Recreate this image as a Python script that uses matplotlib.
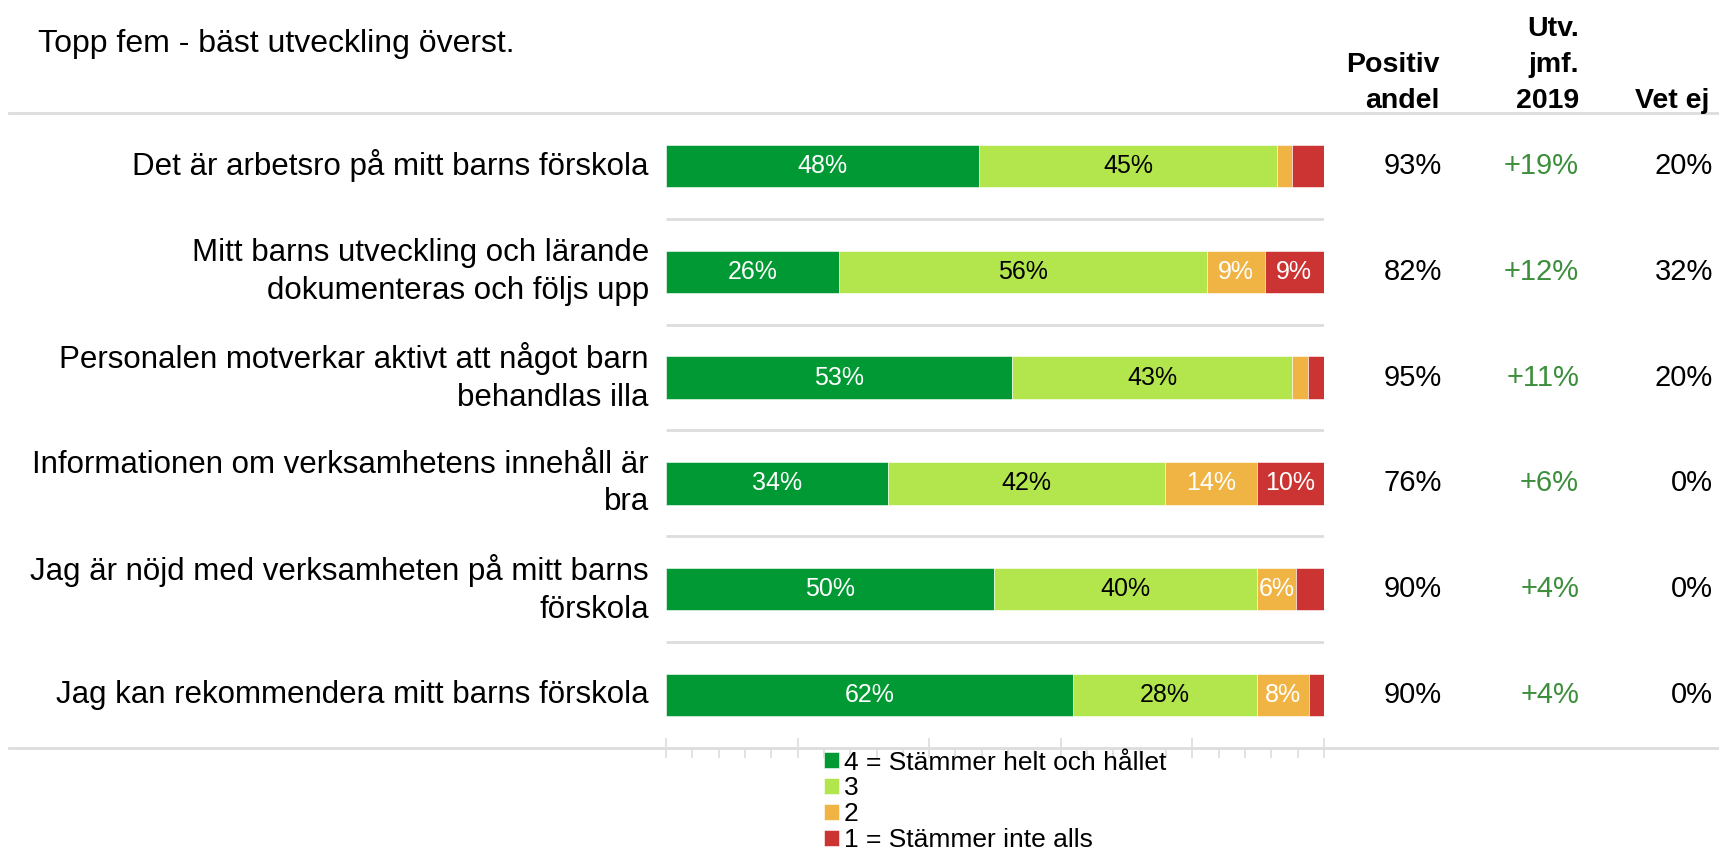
import matplotlib

matplotlib.use("Agg")
import matplotlib.pyplot as plt
import matplotlib.transforms as mtransforms
import numpy as np

plt.rcParams["font.family"] = ["Liberation Sans", "DejaVu Sans"]

TITLE = "Topp fem - bäst utveckling överst."
questions = [
    "Det är arbetsro på mitt barns förskola",
    "Mitt barns utveckling och lärande\ndokumenteras och följs upp",
    "Personalen motverkar aktivt att något barn\nbehandlas illa",
    "Informationen om verksamhetens innehåll är\nbra",
    "Jag är nöjd med verksamheten på mitt barns\nförskola",
    "Jag kan rekommendera mitt barns förskola",
]
level_names = ["4 = Stämmer helt och hållet", "3", "2", "1 = Stämmer inte alls"]
level_colors = ["#009933", "#b3e64d", "#f0b445", "#cc3333"]
label_colors = ["white", "black", "white", "white"]

# share of answers per level, in percent
share_4 = [47.6, 26.3, 52.6, 33.8, 49.8, 61.8]
share_3 = [45.2, 55.9, 42.6, 42.0, 40.0, 28.0]
share_2 = [2.4, 8.8, 2.4, 14.0, 6.0, 8.0]
share_1 = [4.8, 9.0, 2.4, 10.2, 4.2, 2.2]

positive = [93, 82, 95, 76, 90, 90]
change_2019 = [19, 12, 11, 6, 4, 4]
dont_know = [20, 32, 20, 0, 0, 0]

col_headers = ["Positiv\nandel", "Utv.\njmf.\n2019", "Vet ej"]

GRID = "#dddddd"
CHANGE_GREEN = "#3d8f3d"

fig = plt.figure(figsize=(17.19, 8.49), dpi=100)
ax = fig.add_axes([0.3874, 0.1190, 0.3828, 0.7479])

y = np.arange(len(questions))
shares = [share_4, share_3, share_2, share_1]
left = np.zeros(len(questions))
handles = []
for vals, name, color, tcol in zip(shares, level_names, level_colors, label_colors):
    vals = np.array(vals)
    bars = ax.barh(y, vals, left=left, height=0.4, color=color, label=name,
                   edgecolor="white", linewidth=0.4)
    handles.append(bars)
    for yi, l, v in zip(y, left, vals):
        if v >= 5:
            ax.text(l + v / 2, yi, f"{v:.0f}%", ha="center", va="center",
                    color=tcol, fontsize=18)
    left += vals

ax.set_xlim(0, 100)
ax.set_ylim(len(questions) - 0.5, -0.5)
for s in ax.spines.values():
    s.set_visible(False)
ax.set_yticks([])
ax.set_xticks(np.arange(0, 101, 20))
ax.set_xticks(np.arange(0, 101, 4), minor=True)
ax.tick_params(axis="x", which="major", direction="inout", length=14, width=1.2,
               color=GRID, labelbottom=False)
ax.tick_params(axis="x", which="minor", direction="out", length=7, width=1.2,
               color=GRID)

# separators between rows
ax.hlines(y[:-1] + 0.5, 0, 100, color=GRID, lw=2)

# full-width header and footer rules
bt = mtransforms.blended_transform_factory(fig.transFigure, ax.transData)
for yy in (-0.5, len(questions) - 0.5):
    ax.plot([0.005, 1.0], [yy, yy], transform=bt, color=GRID, lw=2, clip_on=False)

# row labels and side columns
for yi, q, p, c, d in zip(y, questions, positive, change_2019, dont_know):
    ax.text(0.3775, yi, q, transform=bt, ha="right", va="center",
            fontsize=22.5, linespacing=1.33)
    ax.text(0.8389, yi, f"{p}%", transform=bt, ha="right", va="center", fontsize=21)
    ax.text(0.9186, yi, f"+{c}%", transform=bt, ha="right", va="center",
            fontsize=21, color=CHANGE_GREEN)
    ax.text(0.9965, yi, f"{d}%", transform=bt, ha="right", va="center", fontsize=21)

for x, h in zip([0.8375, 0.9186, 0.9945], col_headers):
    fig.text(x, 0.866, h, ha="right", va="bottom", fontsize=20.5,
             fontweight="bold", linespacing=1.5)

fig.text(0.022, 0.948, TITLE, ha="left", va="center", fontsize=23)

fig.legend(handles=handles, labels=level_names, loc="upper left",
           bbox_to_anchor=(0.4795, 0.116), frameon=False, fontsize=19,
           handlelength=0.55, handleheight=0.55, handletextpad=0.2,
           labelspacing=0.07, borderpad=0, borderaxespad=0)

fig.savefig("out.png", dpi=100)
